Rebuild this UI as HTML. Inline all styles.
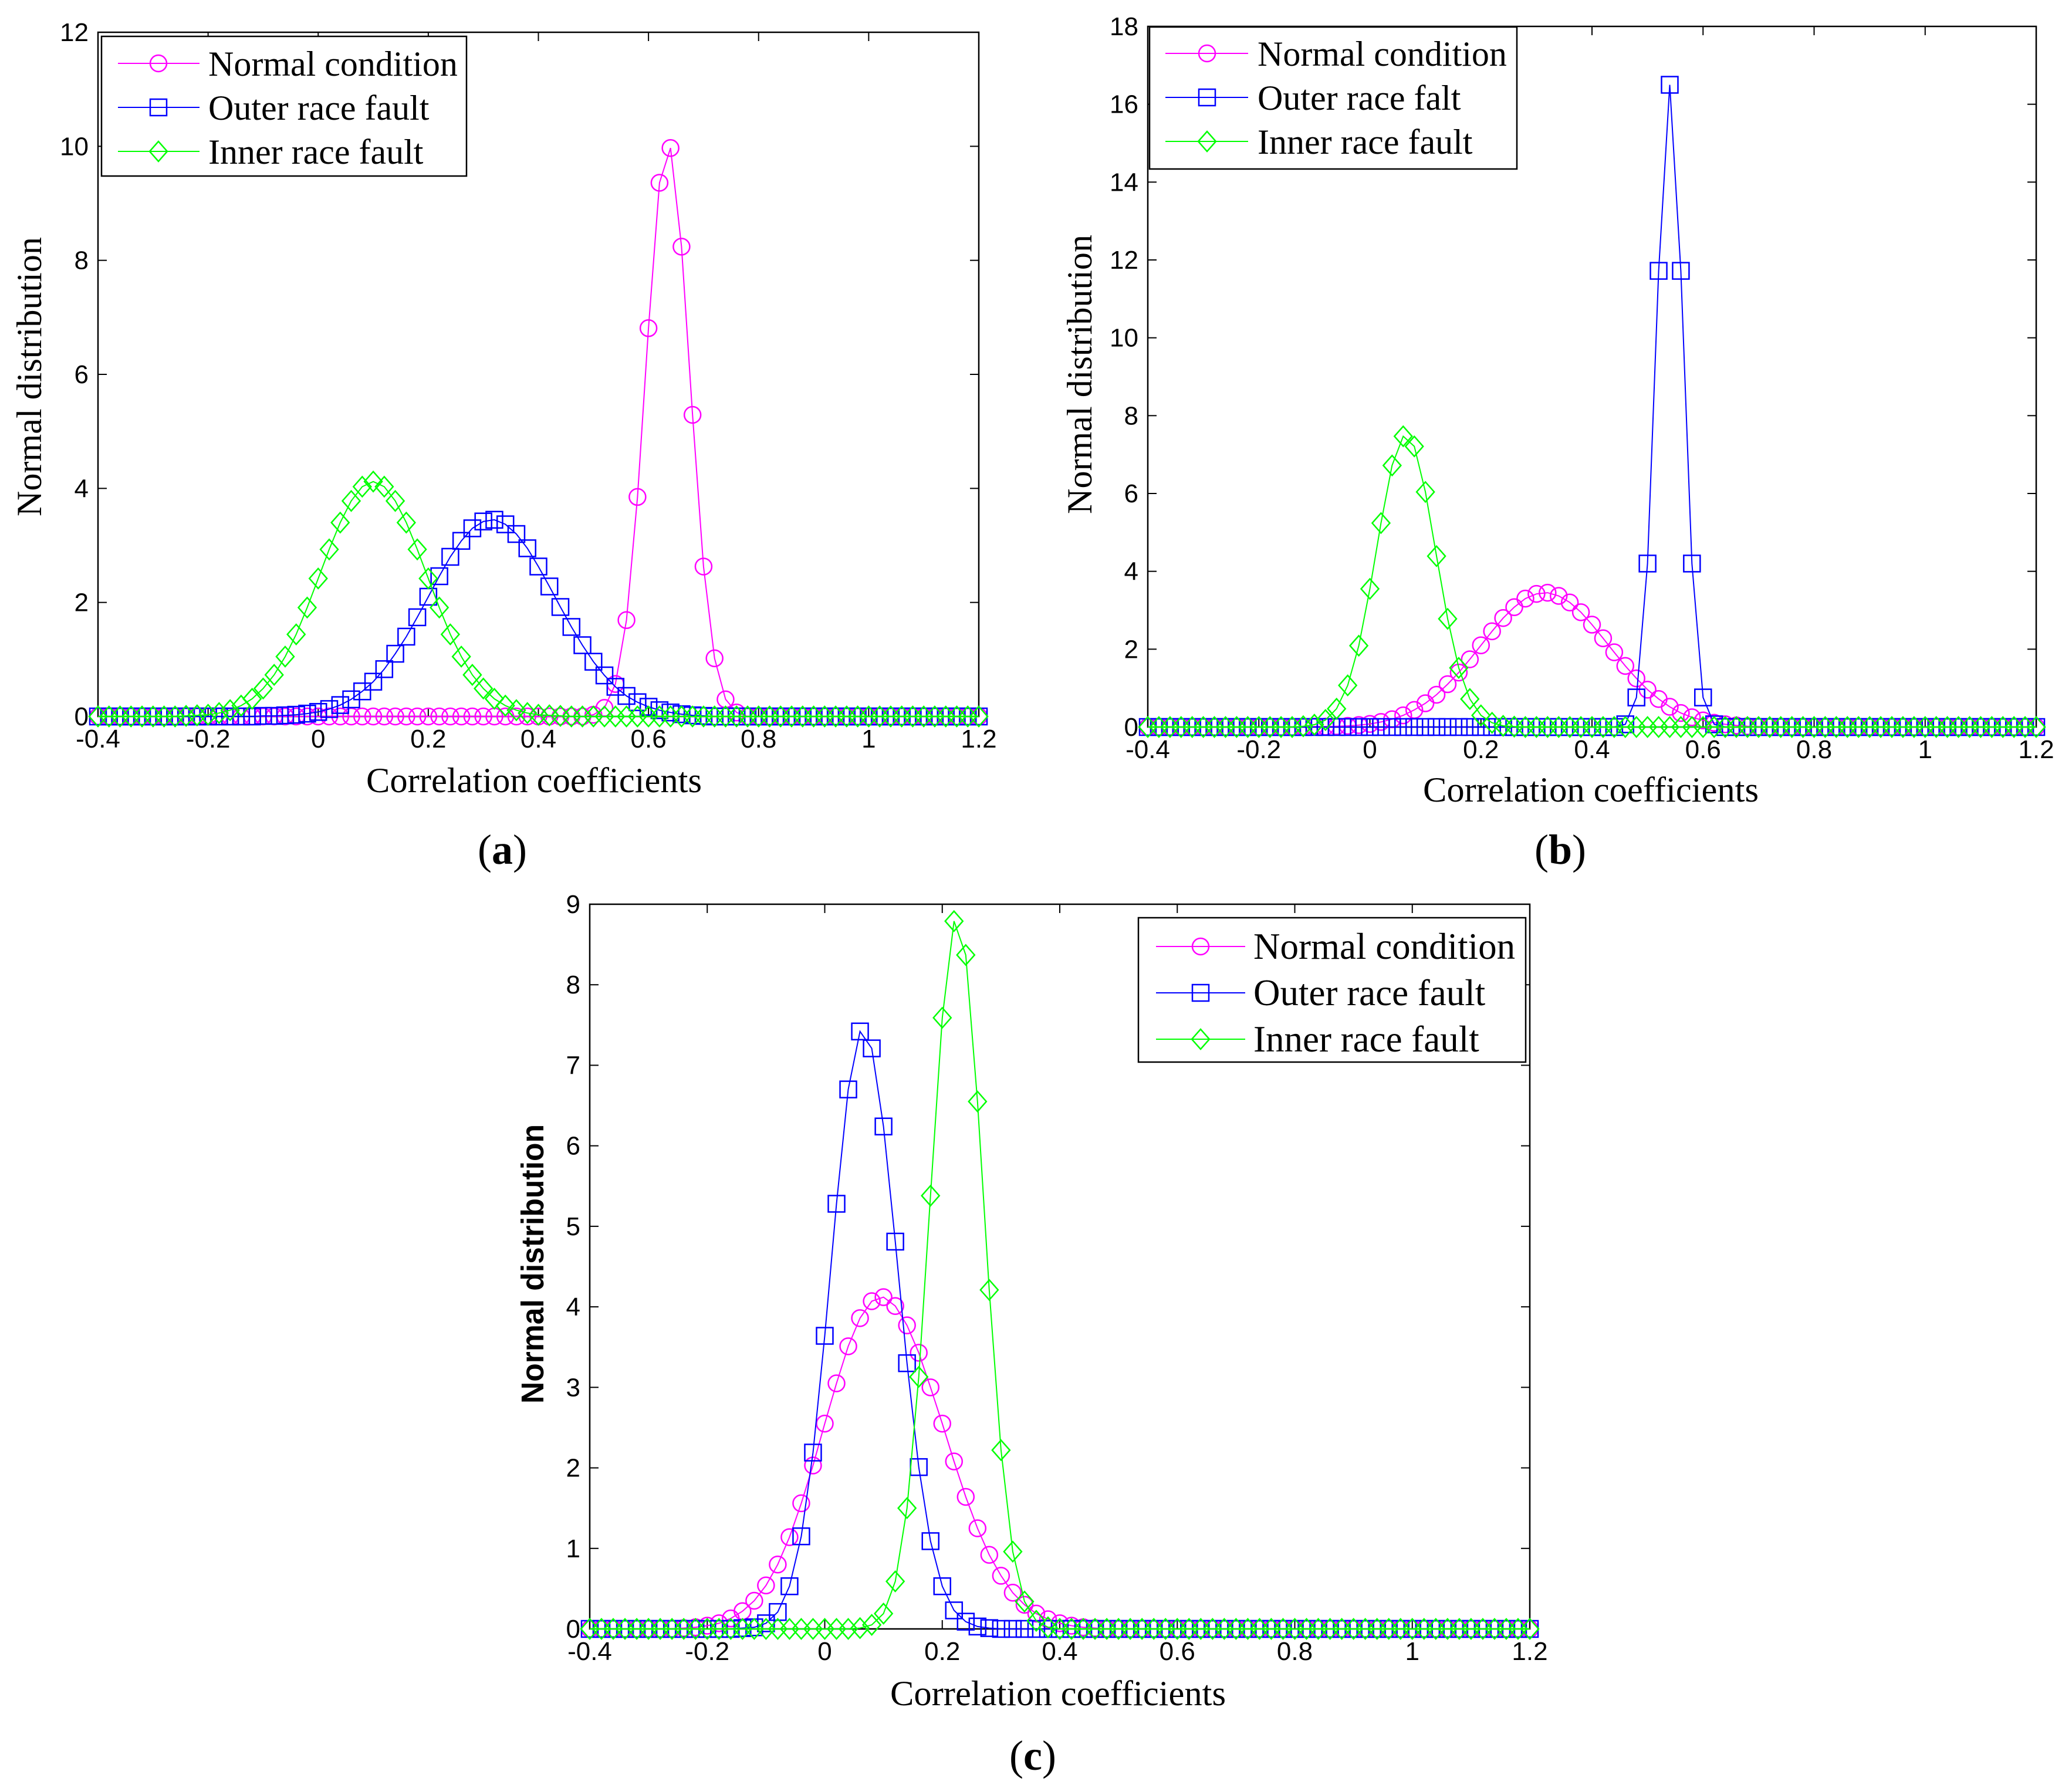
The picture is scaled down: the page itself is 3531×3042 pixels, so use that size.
<!DOCTYPE html>
<html><head><meta charset="utf-8"><style>html,body{margin:0;padding:0;background:#fff}svg{display:block}</style></head>
<body>
<svg id="fig" xmlns="http://www.w3.org/2000/svg" width="3531" height="3042" viewBox="0 0 3531 3042">
<rect width="3531" height="3042" fill="#fff"/>
</svg>
<script>
// Shared x categories (correlation coefficients)
const xs = [-0.4,-0.38,-0.36,-0.34,-0.32,-0.3,-0.28,-0.26,-0.24,-0.22,-0.2,-0.18,-0.16,-0.14,-0.12,-0.1,-0.08,-0.06,-0.04,-0.02,0,0.02,0.04,0.06,0.08,0.1,0.12,0.14,0.16,0.18,0.2,0.22,0.24,0.26,0.28,0.3,0.32,0.34,0.36,0.38,0.4,0.42,0.44,0.46,0.48,0.5,0.52,0.54,0.56,0.58,0.6,0.62,0.64,0.66,0.68,0.7,0.72,0.74,0.76,0.78,0.8,0.82,0.84,0.86,0.88,0.9,0.92,0.94,0.96,0.98,1,1.02,1.04,1.06,1.08,1.1,1.12,1.14,1.16,1.18,1.2];
const xTicks = [-0.4,-0.2,0,0.2,0.4,0.6,0.8,1,1.2];
const xTickLabels = ["-0.4","-0.2","0","0.2","0.4","0.6","0.8","1","1.2"];
const yTicksA = [0,2,4,6,8,10,12];
const yTicksB = [0,2,4,6,8,10,12,14,16,18];
const yTicksC = [0,1,2,3,4,5,6,7,8,9];

// Panel (a)
const aNormal = [0,0,0,0,0,0,0,0,0,0, 0,0,0,0,0,0,0,0,0,0, 0,0,0,0,0,0,0,0,0,0, 0,0,0,0,0,0,0,0,0,0, 0,0,0,0,0,
 0.03,0.15,0.57,1.69,3.85,6.81,9.36,9.97,8.24,5.29,2.63,1.02,0.30,0.07,
 0,0,0,0,0,0,0,0,0,0, 0,0,0,0,0,0,0,0,0,0, 0,0];
const aOuter = [0,0,0,0,0,0,0,0,0,0, 0,0,0,0,0,
 0.01,0.01,0.02,0.03,0.05,0.08,0.13,0.20,0.30,0.44,0.61,0.83,1.10,1.40,1.74,2.10,2.46,2.80,3.08,3.30,3.42,3.45,3.37,3.20,2.95,2.63,2.28,1.92,1.57,1.25,0.96,0.72,0.52,0.36,0.25,0.17,0.11,0.07,0.04,0.02,0.01,
 0,0,0,0,0,0,0,0,0,0, 0,0,0,0,0,0,0,0,0,0, 0,0,0,0,0];
const aInner = [0,0,0,0,0,0,0,0,
 0.01,0.02,0.03,0.06,0.11,0.19,0.31,0.49,0.73,1.05,1.44,1.91,2.42,2.93,3.40,3.78,4.03,4.12,4.03,3.78,3.40,2.93,2.42,1.91,1.44,1.05,0.73,0.49,0.31,0.19,0.11,0.06,0.03,0.02,0.01,
 0,0,0,0,0,0,0,0,0,0, 0,0,0,0,0,0,0,0,0,0, 0,0,0,0,0,0,0,0,0,0, 0,0,0,0,0,0,0,0];

// Panel (b)
const bNormal = [0,0,0,0,0,0,0,0,0,0, 0,0,0,0,0,
 0.01,0.01,0.02,0.03,0.05,0.08,0.13,0.20,0.30,0.44,0.61,0.83,1.10,1.40,1.74,2.10,2.46,2.80,3.08,3.30,3.42,3.45,3.37,3.20,2.95,2.63,2.28,1.92,1.57,1.25,0.96,0.72,0.52,0.36,0.25,0.17,0.11,0.07,0.04,0.02,0.01,
 0,0,0,0,0,0,0,0,0,0, 0,0,0,0,0,0,0,0,0,0, 0,0,0,0,0];
const bOuter = [0,0,0,0,0,0,0,0,0,0, 0,0,0,0,0,0,0,0,0,0, 0,0,0,0,0,0,0,0,0,0, 0,0,0,0,0,0,0,0,0,0, 0,0,0,
 0.07,0.76,4.20,11.72,16.5,11.72,4.20,0.76,0.07,
 0,0,0,0,0,0,0,0,0,0, 0,0,0,0,0,0,0,0,0,0, 0,0,0,0,0,0,0,0,0];
const bInner = [0,0,0,0,0,0,0,0,0,0, 0,0,0,0,
 0.02,0.06,0.18,0.47,1.07,2.09,3.55,5.24,6.72,7.47,7.21,6.04,4.39,2.78,1.52,0.72,0.30,0.11,0.03,0.01,
 0,0,0,0,0,0,0,0,0,0, 0,0,0,0,0,0,0,0,0,0, 0,0,0,0,0,0,0,0,0,0, 0,0,0,0,0,0,0,0,0,0, 0,0,0,0,0,0,0];

// Panel (c)
const cNormal = [0,0,0,0,0,0,0,0,
 0.01,0.02,0.04,0.07,0.13,0.22,0.35,0.54,0.80,1.14,1.56,2.03,2.55,3.05,3.51,3.86,4.07,4.12,4.01,3.77,3.43,3.00,2.55,2.08,1.64,1.25,0.92,0.66,0.45,0.30,0.19,0.12,0.07,0.04,0.02,0.01,
 0,0,0,0,0,0,0,0,0,0, 0,0,0,0,0,0,0,0,0,0, 0,0,0,0,0,0,0,0,0,0, 0,0,0,0,0,0,0];
const cOuter = [0,0,0,0,0,0,0,0,0,0, 0,0,0,
 0.01,0.02,0.07,0.21,0.53,1.15,2.19,3.64,5.28,6.70,7.42,7.21,6.24,4.81,3.30,2.01,1.09,0.53,0.23,0.09,0.03,0.01,
 0,0,0,0,0,0,0,0,0,0, 0,0,0,0,0,0,0,0,0,0, 0,0,0,0,0,0,0,0,0,0, 0,0,0,0,0,0,0,0,0,0, 0,0,0,0,0,0];
const cInner = [0,0,0,0,0,0,0,0,0,0, 0,0,0,0,0,0,0,0,0,0, 0,0,0,
 0.01,0.05,0.19,0.59,1.50,3.13,5.38,7.59,8.79,8.37,6.55,4.21,2.22,0.96,0.34,0.10,0.02,
 0,0,0,0,0,0,0,0,0,0, 0,0,0,0,0,0,0,0,0,0, 0,0,0,0,0,0,0,0,0,0, 0,0,0,0,0,0,0,0,0,0, 0];

const NS = "http://www.w3.org/2000/svg";
const svg = document.getElementById("fig");
function mk(tag, attrs, parent) {
  const e = document.createElementNS(NS, tag);
  for (const k in attrs) e.setAttribute(k, attrs[k]);
  (parent || svg).appendChild(e);
  return e;
}
const MAG = "#ff00ff", BLU = "#0000ff", GRN = "#00ff00";

function marker(g, type, cx, cy, color) {
  let m;
  if (type === "circle") {
    m = mk("circle", {cx: cx, cy: cy, r: 14, fill: "none", stroke: color, "stroke-width": 2.5}, g);
  } else if (type === "square") {
    m = mk("rect", {x: cx - 14, y: cy - 14, width: 28, height: 28, fill: "none", stroke: color, "stroke-width": 2.5}, g);
  } else {
    m = mk("polygon", {points: `${cx-15},${cy} ${cx},${cy-17} ${cx+15},${cy} ${cx},${cy+17}`, fill: "none", stroke: color, "stroke-width": 2.5}, g);
  }
  return m;
}

function panel(p) {
  const g = mk("g", {});
  
  
  const xS = v => p.L + (v - (-0.4)) / 1.6 * (p.R - p.L);
  const yS = v => p.B - v / p.ymax * (p.B - p.T);
  const box = mk("rect", {x: p.L, y: p.T, width: p.R - p.L, height: p.B - p.T, fill: "none", stroke: "#000", "stroke-width": 2.5}, g);
  
  
  xTicks.forEach((t, i) => {
    const x = xS(t);
    mk("line", {x1: x, y1: p.B, x2: x, y2: p.B - 15, stroke: "#000", "stroke-width": 2}, g);
    mk("line", {x1: x, y1: p.T, x2: x, y2: p.T + 15, stroke: "#000", "stroke-width": 2}, g);
    const tx = mk("text", {x: x, y: p.B + 53, "text-anchor": "middle", "font-family": "Liberation Sans, sans-serif", "font-size": 44}, g);
    tx.textContent = xTickLabels[i];
    
    
  });
  p.yTicks.forEach(t => {
    const y = yS(t);
    mk("line", {x1: p.L, y1: y, x2: p.L + 15, y2: y, stroke: "#000", "stroke-width": 2}, g);
    mk("line", {x1: p.R, y1: y, x2: p.R - 15, y2: y, stroke: "#000", "stroke-width": 2}, g);
    const ty = mk("text", {x: p.L - 16, y: y + 15, "text-anchor": "end", "font-family": "Liberation Sans, sans-serif", "font-size": 44}, g);
    ty.textContent = String(t);
    
    
  });
  p.series.forEach(s => {
    const sg = mk("g", {}, g);
    
    
    const pts = xs.map((x, i) => xS(x).toFixed(1) + "," + yS(s.data[i]).toFixed(1)).join(" ");
    mk("polyline", {points: pts, fill: "none", stroke: s.color, "stroke-width": 2}, sg);
    xs.forEach((x, i) => {
      const m = marker(sg, s.marker, xS(x), yS(s.data[i]), s.color);
      
      
    });
  });
  const lg = mk("g", {}, g);
  
  
  const lb = p.leg;
  mk("rect", {x: lb.x0, y: lb.y0, width: lb.x1 - lb.x0, height: lb.y1 - lb.y0, fill: "#fff", stroke: "#000", "stroke-width": 2.5}, lg);
  p.series.forEach((s, i) => {
    const y = lb.rows[i];
    const eg = mk("g", {}, lg);
    
    
    mk("line", {x1: lb.l0, y1: y, x2: lb.l1, y2: y, stroke: s.color, "stroke-width": 2}, eg);
    marker(eg, s.marker, lb.m, y, s.color);
    const t = mk("text", {x: lb.tx, y: y + 21, "font-family": "Liberation Serif, serif", "font-size": lb.fs}, eg);
    t.textContent = s.label;
  });
  const xl = mk("text", {x: p.xl[0], y: p.xl[1], "text-anchor": "middle", "font-family": "Liberation Serif, serif", "font-size": 60, textLength: 572, lengthAdjust: "spacingAndGlyphs"}, g);
  xl.textContent = "Correlation coefficients";
  
  
  const yl = mk("text", {x: 0, y: 0, "text-anchor": "middle", "font-family": p.yfont, "font-size": p.yfs, "font-weight": p.yfw, textLength: 476, lengthAdjust: "spacingAndGlyphs", transform: `translate(${p.yl[0]},${p.yl[1]}) rotate(-90)`}, g);
  yl.textContent = "Normal distribution";
  
  
  const cap = mk("text", {x: p.cap[0], y: p.cap[1], "text-anchor": "middle", "font-family": "Liberation Serif, serif", "font-size": 72}, g);
  cap.innerHTML = '(<tspan font-weight="bold">' + p.capText + '</tspan>)';
  
  
}

panel({name: "panel-a", L: 167, R: 1668, T: 55, B: 1221, ymax: 12, yTicks: yTicksA,
  series: [
    {name: "normal-condition-series", label: "Normal condition", data: aNormal, color: MAG, marker: "circle"},
    {name: "outer-race-fault-series", label: "Outer race fault", data: aOuter, color: BLU, marker: "square"},
    {name: "inner-race-fault-series", label: "Inner race fault", data: aInner, color: GRN, marker: "diamond"}],
  leg: {x0: 173, y0: 62, x1: 795, y1: 300, rows: [108, 183, 258], l0: 201, l1: 340, m: 270, tx: 355, fs: 60},
  xl: [910, 1350], yl: [70, 642], yfont: "Liberation Serif, serif", yfs: 60, yfw: "normal", cap: [856, 1472], capText: "a"});

panel({name: "panel-b", L: 1956, R: 3470, T: 45, B: 1239, ymax: 18, yTicks: yTicksB,
  series: [
    {name: "normal-condition-series", label: "Normal condition", data: bNormal, color: MAG, marker: "circle"},
    {name: "outer-race-fault-series", label: "Outer race falt", data: bOuter, color: BLU, marker: "square"},
    {name: "inner-race-fault-series", label: "Inner race fault", data: bInner, color: GRN, marker: "diamond"}],
  leg: {x0: 1959, y0: 46, x1: 2585, y1: 288, rows: [91, 166, 241], l0: 1986, l1: 2127, m: 2057, tx: 2143, fs: 60},
  xl: [2711, 1366], yl: [1860, 638], yfont: "Liberation Serif, serif", yfs: 60, yfw: "normal", cap: [2659, 1472], capText: "b"});

panel({name: "panel-c", L: 1005, R: 2607, T: 1541, B: 2776, ymax: 9, yTicks: yTicksC,
  series: [
    {name: "normal-condition-series", label: "Normal condition", data: cNormal, color: MAG, marker: "circle"},
    {name: "outer-race-fault-series", label: "Outer race fault", data: cOuter, color: BLU, marker: "square"},
    {name: "inner-race-fault-series", label: "Inner race fault", data: cInner, color: GRN, marker: "diamond"}],
  leg: {x0: 1940, y0: 1564, x1: 2600, y1: 1810, rows: [1613, 1692, 1771], l0: 1970, l1: 2122, m: 2046, tx: 2136, fs: 63},
  xl: [1803, 2906], yl: [926, 2154], yfont: "Liberation Sans, sans-serif", yfs: 54, yfw: "bold", cap: [1760, 3016], capText: "c"});
</script>
</body></html>
